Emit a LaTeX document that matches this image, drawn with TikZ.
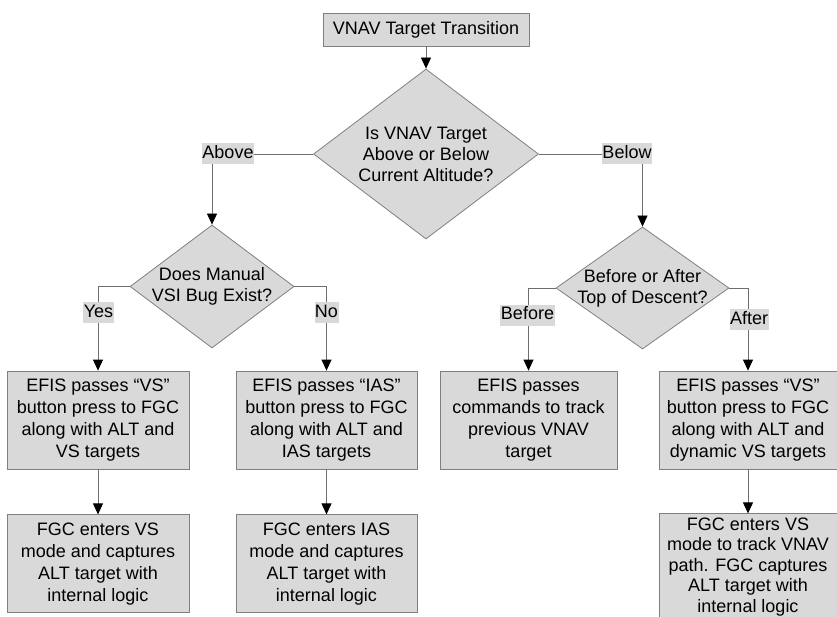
\documentclass[tikz,border=0pt]{standalone}
\usepackage{fontspec}
\setmainfont{Liberation Sans}
\usetikzlibrary{positioning}
\usetikzlibrary{shapes.geometric}
\usetikzlibrary{arrows.meta}
\definecolor{boxgray}{HTML}{D9D9D9}
\definecolor{edgegray}{HTML}{808080}
\definecolor{linegray}{HTML}{6E6E6E}

\begin{document}
\begin{tikzpicture}[x=1pt,y=-1pt,
  txt/.style={font=\fontsize{18}{22}\selectfont,align=center},
  box/.style={txt,draw=edgegray,fill=boxgray,line width=0.8pt,inner sep=0pt,minimum width=181pt,minimum height=98pt},
  dia/.style={diamond,draw=edgegray,fill=boxgray,line width=0.8pt,inner sep=0pt},
  ans/.style={txt,fill=boxgray,inner xsep=0.5pt,inner ysep=2pt,text height=13pt,text depth=4pt},
  conn/.style={draw=linegray,line width=0.8pt,-{Triangle[black,length=11pt,width=10pt]}},
  node distance=45pt]
\useasboundingbox (0,0) rectangle (837,617);
\node[box,minimum width=206pt,minimum height=33pt] (top) at (426,29.5) {VNAV Target Transition};
\node[dia,minimum width=225pt,minimum height=170pt] (q1) at (426,154) {};
\node[txt,font=\fontsize{18}{21}\selectfont] (q1t) at (q1) {Is VNAV Target\\Above or Below\\Current Altitude?};
\node[dia,minimum width=164pt,minimum height=123pt] (q2) at (212,286.5) {};
\node[txt,font=\fontsize{18}{21}\selectfont] (q2t) at (q2) {Does Manual\\VSI Bug Exist?};
\node[dia,minimum width=173pt,minimum height=122pt] (q3) at (642.5,288) {};
\node[txt,font=\fontsize{18}{21}\selectfont] (q3t) at (q3) {Before or After\\Top of Descent?};
\node[box,minimum width=182pt] (b1) at (98,420) {EFIS passes “VS”\\button press to FGC\\along with ALT and\\VS targets};
\node[box] (b2) at (326.5,420) {EFIS passes “IAS”\\button press to FGC\\along with ALT and\\IAS targets};
\node[box,below=of b1,minimum width=182pt] (b3) {FGC enters VS\\mode and captures\\ALT target with\\internal logic};
\node[box,below=of b2] (b4) {FGC enters IAS\\mode and captures\\ALT target with\\internal logic};
\node[box,minimum width=177pt] (b5) at (528.5,420) {EFIS passes\\commands to track\\previous VNAV\\target};
\node[box,minimum width=178pt] (b6) at (748,420) {EFIS passes “VS”\\button press to FGC\\along with ALT and\\dynamic VS targets};
\node[box,below=44pt of b6,minimum width=178pt,minimum height=106pt,font=\fontsize{18}{20.5}\selectfont] (b7) {FGC enters VS\\mode to track VNAV\\path. FGC captures\\ALT target with\\internal logic};

\draw[conn] (top.south) -- (q1.north);
\draw[conn] (q1.west) -| (q2.north);
\draw[conn] (q1.east) -| (q3.north);
\draw[conn] (q2.west) -| (b1.north);
\draw[conn] (q2.east) -| (b2.north);
\draw[conn] (q3.west) -| (b5.north);
\draw[conn] (q3.east) -| (b6.north);
\draw[conn] (b1) -- (b3);
\draw[conn] (b2) -- (b4);
\draw[conn] (b6) -- (b7);

\node[ans] (la) at (228,154) {Above};
\node[ans] (lb) at (627,154) {Below};
\node[ans] (ly) at (98.5,312.5) {Yes};
\node[ans] (ln) at (326.5,312.5) {No};
\node[ans] (lbe) at (527.5,315) {Before};
\node[ans] (laf) at (749,319.5) {After};
\end{tikzpicture}
\end{document}
